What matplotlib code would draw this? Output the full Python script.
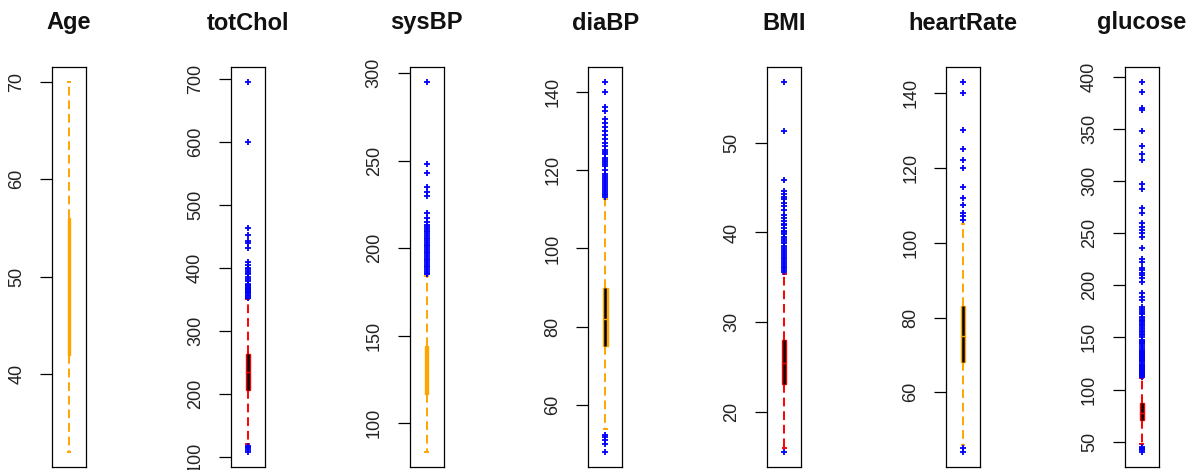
import matplotlib
matplotlib.use("Agg")
import matplotlib.pyplot as plt

plt.rcParams['font.family'] = ['Liberation Sans', 'DejaVu Sans']

# box summary per variable
names = ['Age', 'totChol', 'sysBP', 'diaBP', 'BMI', 'heartRate', 'glucose']
q1 = [42, 206, 117, 75, 23.1, 68, 71]
med = [49, 234, 128, 82, 25.4, 75, 78]
q3 = [56, 263, 144, 90, 28.0, 83, 87]
whislo = [32, 120, 83.5, 54, 16.0, 46, 48]
whishi = [70, 350, 184, 112.5, 35.4, 105, 111]

# outliers
fl_age = []
fl_chol = [107, 110, 113, 115, 117,
           352, 354, 355, 356, 358, 360, 361, 362, 364, 365, 366, 367, 368,
           370, 372, 373, 375, 380, 382, 385, 390, 392, 395, 398, 400, 405,
           410, 432, 439, 443, 453, 464, 600, 696]
fl_sys = [185, 186, 187, 188, 189, 190, 191, 192, 193, 194, 195, 196, 197,
          198, 199, 200, 201, 202, 203, 204, 205, 206, 207, 208, 209, 210,
          211, 212, 213, 215, 217, 220, 230, 232, 235, 243, 248, 295]
fl_dia = [48, 50, 51, 52, 52.5,
          113, 113.5, 114, 114.5, 115, 115.5, 116, 116.5, 117, 117.5, 118,
          118.5, 119, 120, 121, 121.5, 122, 122.5, 123, 124, 124.5, 125, 126,
          127, 128, 129, 130, 131, 132, 133, 135, 136, 140, 142.5]
fl_bmi = [15.5,
          35.6, 35.8, 36.0, 36.2, 36.4, 36.6, 36.8, 37.0, 37.2, 37.4, 37.6,
          37.8, 38.0, 38.3, 38.5, 38.8, 39.0, 39.3, 39.5, 39.8, 40.0, 40.2,
          40.5, 40.8, 41.0, 41.3, 41.6, 42.0, 42.5, 43.0, 43.3, 43.7, 44.0,
          44.3, 44.6, 45.8, 51.3, 56.8]
fl_hr = [44, 45, 106, 107, 108, 110, 112, 115, 120, 122, 125, 130, 140, 143]
fl_glu = [40, 42, 43, 44, 45,
          112, 113, 114, 115, 116, 117, 118, 119, 120, 121, 122, 123, 124,
          125, 126, 127, 128, 129, 130, 131, 132, 133, 134, 135, 136, 137,
          138, 140, 142, 144, 145, 146, 147, 148, 150, 152, 153, 155, 156,
          158, 160, 162, 163, 165, 166, 167, 169, 170, 172, 173, 175, 177,
          179, 186, 189, 193, 203, 207, 210, 212, 215, 217, 222, 225, 236,
          246, 250, 253, 256, 260, 269, 274, 292, 297, 320, 326, 333, 348,
          368, 370, 385, 395]
fliers = [fl_age, fl_chol, fl_sys, fl_dia, fl_bmi, fl_hr, fl_glu]

yticks = [[40, 50, 60, 70],
          [100, 200, 300, 400, 500, 600, 700],
          [100, 150, 200, 250, 300],
          [60, 80, 100, 120, 140],
          [20, 30, 40, 50],
          [60, 80, 100, 120, 140],
          [50, 100, 150, 200, 250, 300, 350, 400]]

ORANGE = '#FFA500'
RED = '#FF0000'
colors = [ORANGE, RED, ORANGE, ORANGE, RED, ORANGE, RED]
black_core = [False, True, False, True, True, True, True]
box_w = [0.06, 0.13, 0.11, 0.13, 0.13, 0.13, 0.13]

W, H = 1195, 470
fig = plt.figure(figsize=(W / 100, H / 100), dpi=100)

for i, name in enumerate(names):
    left = 52 + i * 178.8
    ax = fig.add_axes([left / W, 3 / H, 34 / W, 400 / H])
    c = colors[i]
    stats = [dict(med=med[i], q1=q1[i], q3=q3[i], whislo=whislo[i],
                  whishi=whishi[i], fliers=fliers[i])]
    ax.bxp(stats, positions=[1], widths=box_w[i], capwidths=0.08,
           patch_artist=True, showfliers=True,
           boxprops=dict(facecolor=c, edgecolor=c, linewidth=1.0),
           whiskerprops=dict(color=c, linewidth=1.4,
                             linestyle=(0, (4.5, 2.5))),
           capprops=dict(color=c, linewidth=1.4),
           medianprops=dict(color=c, linewidth=1.0, zorder=4),
           flierprops=dict(marker='+', markeredgecolor='#0000FF',
                           markersize=3.8, markeredgewidth=1.3))
    if black_core[i]:
        ax.vlines(1, q1[i], q3[i], color='black', linewidth=1.8, zorder=3)

    lo = min([whislo[i]] + fliers[i])
    hi = max([whishi[i]] + fliers[i])
    pad = 0.04 * (hi - lo)
    ax.set_ylim(lo - pad, hi + pad)
    ax.set_xlim(0.5, 1.5)
    ax.set_xticks([])
    ax.set_yticks(yticks[i])
    ax.set_yticklabels([str(t) for t in yticks[i]])
    ax.tick_params(axis='y', length=8.3, width=0.9, pad=11,
                   labelsize=13, labelcolor='#222222', labelrotation=90)
    for lab in ax.get_yticklabels():
        lab.set_va('center')
    for sp in ax.spines.values():
        sp.set_linewidth(0.9)
        sp.set_color('black')
    ax.set_title(name, fontsize=17, fontweight='bold', pad=27, color='#111111')

fig.savefig('out.png', dpi=100)
